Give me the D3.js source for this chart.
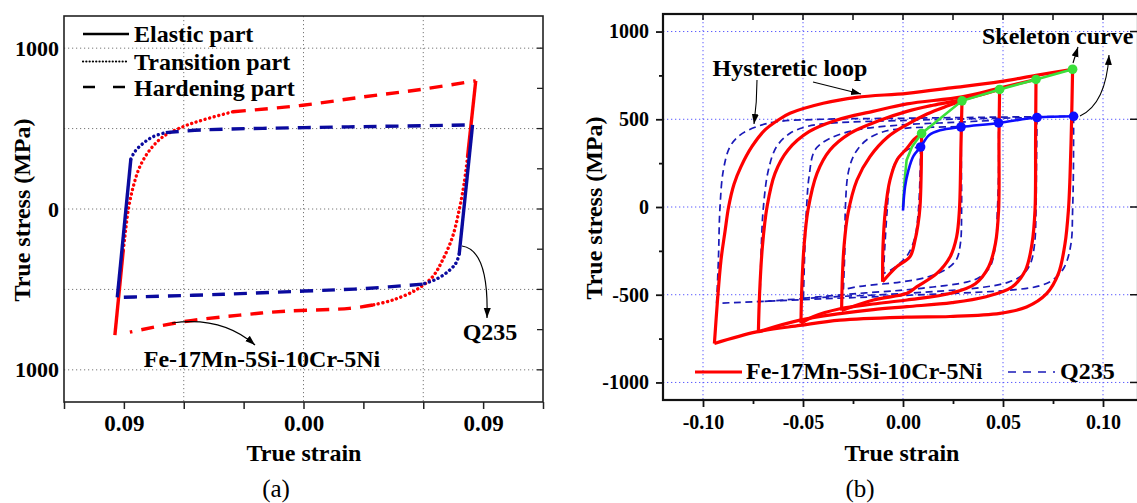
<!DOCTYPE html>
<html><head><meta charset="utf-8">
<script src="https://cdn.jsdelivr.net/npm/d3@7"></script>
<style>
body{margin:0;background:#fff}
svg{display:block}
text{font-family:"Liberation Serif","Times New Roman",serif;fill:#000}
</style>
</head><body>
<svg id="c" width="1137" height="503"></svg>
<script>
// ---------- Panel (a) data: [strain, stress] ----------
const aStrainTickValues = [-0.09, 0, 0.09];
const aStrainTickLabels = ["0.09", "0.00", "0.09"];
const aStressTickValues = [1000, 0, -1000];
const aStressTickLabels = ["1000", "0", "1000"];

const aFeElasticLeft = [[-0.0945, -784], [-0.0903, -255]];
const aFeTransitionLeft = [[-0.0903, -255], [-0.0895, -172], [-0.0878, -6], [-0.0853, 139], [-0.082, 263], [-0.077, 367], [-0.0703, 450], [-0.0603, 512], [-0.0503, 554], [-0.0353, 605]];
const aFeHardeningTop = [[-0.0353, 605], [-0.002, 643], [0.03, 697], [0.0597, 745], [0.0863, 797]];
const aFeElasticRight = [[0.0863, 797], [0.0822, 326]];
const aFeTransitionRight = [[0.0822, 326], [0.0805, 160], [0.078, -6], [0.0747, -172], [0.0697, -317], [0.0647, -421], [0.0563, -504], [0.0447, -566], [0.0347, -597]];
const aFeHardeningBottom = [[0.0347, -597], [0.023, -618], [-0.0087, -635], [-0.032, -660], [-0.0603, -701], [-0.087, -766]];

const aQElasticLeft = [[-0.0933, -550], [-0.0865, 311]];
const aQTransitionLeft = [[-0.0865, 311], [-0.0845, 357], [-0.0803, 409], [-0.0753, 450], [-0.069, 475]];
const aQHardeningTop = [[-0.069, 475], [-0.05, 492], [0.0005, 506], [0.04, 514], [0.0847, 523]];
const aQElasticRight = [[0.0847, 523], [0.078, -282]];
const aQTransitionRight = [[0.078, -282], [0.0763, -338], [0.0713, -400], [0.0655, -442], [0.0597, -467]];
const aQHardeningBottom = [[0.0597, -467], [0.0313, -494], [0.0005, -510], [-0.04, -530], [-0.082, -546], [-0.0933, -550]];

// ---------- Panel (b) data: [strain, stress] ----------
const bStrainTickValues = [-0.10, -0.05, 0, 0.05, 0.10];
const bStrainTickLabels = ["-0.10", "-0.05", "0.00", "0.05", "0.10"];
const bStressTickValues = [1000, 500, 0, -500, -1000];
const bStressTickLabels = ["1000", "500", "0", "-500", "-1000"];

const feUp1 = [[-0.0102, -426], [-0.01, -226], [-0.0088, -17], [-0.0065, 154], [-0.003, 268], [0.002, 335], [0.0055, 385], [0.0093, 419]];
const feDown1 = [[0.0093, 419], [0.0091, 200], [0.0085, 0], [0.0075, -100], [0.006, -190], [0.0035, -283], [-0.0031, -340], [-0.0102, -426]];
const feUp2 = [[-0.0307, -590], [-0.0303, -397], [-0.0295, -226], [-0.0275, -36], [-0.023, 154], [-0.0165, 287], [-0.0075, 400], [0.002, 470], [0.012, 530], [0.022, 575], [0.0295, 605]];
const feDown2 = [[0.0295, 605], [0.029, 361], [0.0282, -19], [0.0268, -171], [0.0235, -285], [0.0168, -380], [0.0068, -455], [0.002, -492], [-0.0148, -530], [-0.0307, -590]];
const feUp3 = [[-0.051, -663], [-0.0507, -492], [-0.0495, -226], [-0.0475, -17], [-0.043, 192], [-0.0365, 325], [-0.0265, 420], [-0.0125, 490], [0.002, 545], [0.015, 580], [0.0295, 612], [0.0483, 670]];
const feDown3 = [[0.0483, 670], [0.048, 400], [0.0478, -19], [0.0462, -209], [0.0428, -342], [0.0362, -437], [0.0245, -490], [0.002, -530], [-0.015, -553], [-0.0315, -580], [-0.045, -625], [-0.051, -663]];
const feUp4 = [[-0.0723, -711], [-0.0717, -492], [-0.0703, -226], [-0.068, 0], [-0.064, 192], [-0.0575, 325], [-0.047, 429], [-0.033, 496], [-0.015, 545], [0.002, 588], [0.0295, 628], [0.0483, 678], [0.0665, 727]];
const feDown4 = [[0.0665, 727], [0.0663, 400], [0.066, -19], [0.0645, -209], [0.0612, -361], [0.0545, -456], [0.041, -513], [0.0245, -545], [0.002, -568], [-0.0148, -585], [-0.0315, -608], [-0.0515, -645], [-0.0723, -711]];
const feUp5 = [[-0.0943, -778], [-0.0928, -540], [-0.091, -302], [-0.089, -140], [-0.0872, 0], [-0.0845, 130], [-0.081, 230], [-0.0755, 345], [-0.069, 439], [-0.0625, 495], [-0.0565, 534], [-0.0399, 591], [-0.0232, 625], [0.002, 648], [0.025, 680], [0.0485, 715], [0.0665, 750], [0.0848, 785]];
const feDown5 = [[0.0848, 785], [0.0843, 495], [0.0835, 171], [0.0827, -19], [0.081, -209], [0.0777, -380], [0.0718, -494], [0.0618, -570], [0.0485, -606], [0.0235, -624], [0.002, -628], [-0.0315, -645], [-0.0515, -675], [-0.0732, -712], [-0.0943, -778]];

const qUp1 = [[-0.0098, -380], [-0.009, -209], [-0.0078, 0], [-0.0065, 150], [-0.0032, 270], [0.002, 325], [0.0055, 338], [0.0088, 342]];
const qDown1 = [[0.0088, 342], [0.0085, 171], [0.0077, -19], [0.006, -171], [0.0027, -266], [-0.0015, -320], [-0.0055, -355], [-0.0098, -380]];
const qUp2 = [[-0.0298, -470], [-0.029, -209], [-0.0288, 0], [-0.0273, 200], [-0.024, 306], [-0.0182, 382], [-0.0098, 429], [0.002, 450], [0.015, 455], [0.029, 458]];
const qDown2 = [[0.029, 458], [0.0292, 200], [0.0293, -19], [0.0287, -209], [0.0265, -304], [0.0207, -361], [0.0123, -399], [-0.0015, -428], [-0.0215, -452], [-0.0298, -470]];
const qUp3 = [[-0.0498, -520], [-0.049, -209], [-0.0482, 0], [-0.047, 170], [-0.044, 325], [-0.0365, 391], [-0.0232, 439], [0.002, 470], [0.025, 482], [0.0478, 495]];
const qDown3 = [[0.0478, 495], [0.0478, 200], [0.0472, -19], [0.0463, -209], [0.0435, -342], [0.0385, -399], [0.0318, -428], [0.015, -456], [-0.0015, -475], [-0.025, -495], [-0.0498, -520]];
const qUp4 = [[-0.0715, -540], [-0.0708, -209], [-0.0698, 0], [-0.0673, 211], [-0.0632, 344], [-0.0565, 420], [-0.0482, 458], [-0.0365, 477], [0.002, 494], [0.035, 503], [0.067, 510]];
const qDown4 = [[0.067, 510], [0.0667, 200], [0.0665, -19], [0.0658, -209], [0.0637, -323], [0.0595, -390], [0.0528, -428], [0.041, -456], [-0.0015, -494], [-0.04, -515], [-0.0715, -540]];
const qUp5 = [[-0.0932, -549], [-0.0923, -302], [-0.0915, 0], [-0.0898, 211], [-0.0865, 344], [-0.0815, 410], [-0.0732, 458], [-0.0632, 486], [-0.0399, 500], [0.002, 506], [0.045, 512], [0.0853, 517]];
const qDown5 = [[0.0853, 517], [0.0852, 200], [0.0848, -19], [0.084, -209], [0.0807, -342], [0.0757, -409], [0.069, -447], [0.0563, -471], [-0.0015, -505], [-0.05, -528], [-0.0932, -549]];

const feSkeletonLine = [[0.0, 0], [0.0008, 150], [0.0018, 267], [0.0045, 343], [0.0093, 419], [0.0295, 605], [0.0483, 670], [0.0665, 727], [0.0848, 785]];
const feSkeletonPoints = [[0.0093, 419], [0.0295, 605], [0.0483, 670], [0.0665, 727], [0.0848, 785]];
const qSkeletonLine = [[0.0, -20], [0.001, 114], [0.0027, 209], [0.0052, 290], [0.0088, 342], [0.013, 409], [0.0185, 437], [0.029, 456], [0.0478, 479], [0.067, 510], [0.0853, 517]];
const qSkeletonPoints = [[0.0088, 342], [0.029, 456], [0.0478, 479], [0.067, 510], [0.0853, 517]];

// ---------- drawing ----------
const svg = d3.select("#c");
const RED = "#ff0000", NAVY = "#0a0a9e", QBLUE = "#1a1ab8", SBLUE = "#0d0dff", GREEN = "#3ae03a";
const FONT = "Liberation Serif";

const defs = svg.append("defs");
defs.append("marker").attr("id", "arr").attr("markerUnits", "userSpaceOnUse")
  .attr("markerWidth", 11).attr("markerHeight", 8).attr("refX", 10).attr("refY", 3.5)
  .attr("orient", "auto")
  .append("path").attr("d", "M0,0 L10,3.5 L0,7 Z").attr("fill", "#000");

function curvePath(g, data, x, y, stroke, width, dash, cap) {
  g.append("path").datum(data)
    .attr("d", d3.line().x(d => x(d[0])).y(d => y(d[1])).curve(d3.curveCatmullRom.alpha(0.5)))
    .attr("fill", "none").attr("stroke", stroke).attr("stroke-width", width)
    .attr("stroke-dasharray", dash || null).attr("stroke-linecap", cap || "butt")
    .attr("stroke-linejoin", "round");
}
function label(g, x, y, t, size, anchor, weight) {
  return g.append("text").attr("x", x).attr("y", y).attr("text-anchor", anchor || "start")
    .style("font-family", FONT).style("font-size", size + "px").style("font-weight", weight || "bold").text(t);
}
function styleTicks(sel, size) {
  sel.selectAll("text").style("font-family", FONT).style("font-weight", "bold").style("font-size", size + "px").attr("fill", "#000");
}

// ===== Panel (a) =====
const xA = d3.scaleLinear().domain([-0.12, 0.12]).range([64, 543]);
const yA = d3.scaleLinear().domain([-1200, 1200]).range([402, 16]);
const gA = svg.append("g");

[-0.06, 0, 0.06].forEach(v => gA.append("line").attr("x1", xA(v)).attr("x2", xA(v)).attr("y1", yA(1200)).attr("y2", yA(-1200))
  .attr("stroke", "#777").attr("stroke-width", 1).attr("stroke-dasharray", "1.2,2.8"));
[1000, 500, 0, -500, -1000].forEach(v => gA.append("line").attr("y1", yA(v)).attr("y2", yA(v)).attr("x1", xA(-0.12)).attr("x2", xA(0.12))
  .attr("stroke", "#777").attr("stroke-width", 1).attr("stroke-dasharray", "1.2,2.8"));

d3.range(-1000, 1001, 250).forEach(v => gA.append("line").attr("x1", xA(0.12)).attr("x2", xA(0.12) - 6).attr("y1", yA(v)).attr("y2", yA(v)).attr("stroke", "#222").attr("stroke-width", 1.3));

const axA = gA.append("g").attr("transform", `translate(0,${yA(-1200)})`)
  .call(d3.axisBottom(xA).tickValues(d3.range(-4, 5).map(i => i * 0.03)).tickSize(7).tickSizeOuter(0).tickPadding(6)
    .tickFormat(d => { const i = aStrainTickValues.findIndex(v => Math.abs(v - d) < 1e-9); return i >= 0 ? aStrainTickLabels[i] : ""; }));
axA.select(".domain").remove();
axA.selectAll("line").attr("stroke", "#222").attr("stroke-width", 1.5);
styleTicks(axA, 23);

const ayA = gA.append("g").attr("transform", `translate(${xA(-0.12)},0)`)
  .call(d3.axisLeft(yA).tickValues(aStressTickValues).tickSize(0).tickPadding(5)
    .tickFormat((d, i) => aStressTickLabels[i]));
ayA.select(".domain").remove();
styleTicks(ayA, 22);

gA.append("rect").attr("x", xA(-0.12)).attr("y", yA(1200)).attr("width", xA(0.12) - xA(-0.12)).attr("height", yA(-1200) - yA(1200))
  .attr("fill", "none").attr("stroke", "#222").attr("stroke-width", 1.6);

const DOT = "0.1,4.6", DASH = "13,9";
curvePath(gA, aFeElasticLeft, xA, yA, RED, 3.4);
curvePath(gA, aFeTransitionLeft, xA, yA, RED, 3.4, DOT, "round");
curvePath(gA, aFeHardeningTop, xA, yA, RED, 3.4, DASH);
curvePath(gA, aFeElasticRight, xA, yA, RED, 3.4);
curvePath(gA, aFeTransitionRight, xA, yA, RED, 3.4, DOT, "round");
curvePath(gA, aFeHardeningBottom, xA, yA, RED, 3.4, DASH);
curvePath(gA, aQElasticLeft, xA, yA, NAVY, 3.4);
curvePath(gA, aQTransitionLeft, xA, yA, NAVY, 3.4, DOT, "round");
curvePath(gA, aQHardeningTop, xA, yA, NAVY, 3.4, DASH);
curvePath(gA, aQElasticRight, xA, yA, NAVY, 3.4);
curvePath(gA, aQTransitionRight, xA, yA, NAVY, 3.4, DOT, "round");
curvePath(gA, aQHardeningBottom, xA, yA, NAVY, 3.4, DASH);

const legA = [["Elastic part", null, 34, 42], ["Transition part", "0.1,3.2", 61.5, 70], ["Hardening part", "12,18", 87, 96]];
legA.forEach(([t, d, ly, ty]) => {
  gA.append("line").attr("x1", 83).attr("x2", 129).attr("y1", ly).attr("y2", ly).attr("stroke", "#000")
    .attr("stroke-width", d === "0.1,3.2" ? 2.2 : 2.6).attr("stroke-dasharray", d).attr("stroke-linecap", d === "0.1,3.2" ? "round" : "butt");
  label(gA, 134, ty, t, 24);
});

label(gA, 490, 340, "Q235", 24, "middle");
gA.append("path").attr("d", "M462,246 Q489,250 487,318").attr("fill", "none").attr("stroke", "#000").attr("stroke-width", 1.2).attr("marker-end", "url(#arr)");
label(gA, 262, 367, "Fe-17Mn-5Si-10Cr-5Ni", 24, "middle");
gA.append("path").attr("d", "M172,323 Q222,316 255,345").attr("fill", "none").attr("stroke", "#000").attr("stroke-width", 1.2).attr("marker-end", "url(#arr)");

label(gA, 304, 461, "True strain", 24, "middle");
label(gA, 0, 0, "True stress (MPa)", 24, "middle").attr("transform", "translate(30,210) rotate(-90)");
label(gA, 276, 497, "(a)", 25, "middle", "normal");

// ===== Panel (b) =====
const xB = d3.scaleLinear().domain([-0.12, 0.1175]).range([663, 1138]);
const yB = d3.scaleLinear().domain([-1100, 1100]).range([400, 14]);
const gB = svg.append("g");

const GRIDB = "#5a5aff";
bStrainTickValues.forEach(v => gB.append("line").attr("x1", xB(v)).attr("x2", xB(v)).attr("y1", yB(1100)).attr("y2", yB(-1100))
  .attr("stroke", GRIDB).attr("stroke-width", 1).attr("stroke-dasharray", "1.3,2.7"));
bStressTickValues.forEach(v => gB.append("line").attr("y1", yB(v)).attr("y2", yB(v)).attr("x1", xB(-0.12)).attr("x2", xB(0.1175))
  .attr("stroke", GRIDB).attr("stroke-width", 1).attr("stroke-dasharray", "1.3,2.7"));

d3.range(-4, 5).map(i => i * 0.025).forEach(v => gB.append("line").attr("x1", xB(v)).attr("x2", xB(v)).attr("y1", yB(1100)).attr("y2", yB(1100) + 6).attr("stroke", "#111").attr("stroke-width", 1.5));
bStressTickValues.forEach(v => gB.append("line").attr("x1", xB(0.1175)).attr("x2", xB(0.1175) - 8).attr("y1", yB(v)).attr("y2", yB(v)).attr("stroke", "#111").attr("stroke-width", 1.5));

const axB = gB.append("g").attr("transform", `translate(0,${yB(-1100)})`)
  .call(d3.axisBottom(xB).tickValues(bStrainTickValues).tickSize(7).tickSizeOuter(0).tickPadding(8)
    .tickFormat((d, i) => bStrainTickLabels[i]));
axB.select(".domain").remove();
axB.selectAll("line").attr("stroke", "#111").attr("stroke-width", 1.8);
styleTicks(axB, 20);
const axBm = gB.append("g").attr("transform", `translate(0,${yB(-1100)})`)
  .call(d3.axisBottom(xB).tickValues([-0.075, -0.025, 0.025, 0.075]).tickSize(4).tickSizeOuter(0).tickFormat(""));
axBm.select(".domain").remove();
axBm.selectAll("line").attr("stroke", "#111").attr("stroke-width", 1.8);

const ayB = gB.append("g").attr("transform", `translate(${xB(-0.12)},0)`)
  .call(d3.axisLeft(yB).tickValues(bStressTickValues).tickSize(7).tickSizeOuter(0).tickPadding(7)
    .tickFormat((d, i) => bStressTickLabels[i]));
ayB.select(".domain").remove();
ayB.selectAll("line").attr("stroke", "#111").attr("stroke-width", 1.8);
styleTicks(ayB, 20);
const ayBm = gB.append("g").attr("transform", `translate(${xB(-0.12)},0)`)
  .call(d3.axisLeft(yB).tickValues([750, 250, -250, -750]).tickSize(4).tickSizeOuter(0).tickFormat(""));
ayBm.select(".domain").remove();
ayBm.selectAll("line").attr("stroke", "#111").attr("stroke-width", 1.8);

gB.append("rect").attr("x", xB(-0.12)).attr("y", yB(1100)).attr("width", xB(0.1175) - xB(-0.12)).attr("height", yB(-1100) - yB(1100))
  .attr("fill", "none").attr("stroke", "#111").attr("stroke-width", 2.2);

const qUps = [qUp1, qUp2, qUp3, qUp4, qUp5], qDowns = [qDown1, qDown2, qDown3, qDown4, qDown5];
const feUps = [feUp1, feUp2, feUp3, feUp4, feUp5], feDowns = [feDown1, feDown2, feDown3, feDown4, feDown5];
qUps.forEach((d, i) => { curvePath(gB, d, xB, yB, QBLUE, 1.7, "7,4.5"); curvePath(gB, qDowns[i], xB, yB, QBLUE, 1.7, "7,4.5"); });
feUps.forEach((d, i) => { curvePath(gB, d, xB, yB, RED, 3.2); curvePath(gB, feDowns[i], xB, yB, RED, 3.2); });

gB.append("path").datum(feSkeletonLine).attr("d", d3.line().x(d => xB(d[0])).y(d => yB(d[1])))
  .attr("fill", "none").attr("stroke", GREEN).attr("stroke-width", 2.6);
gB.append("path").datum(qSkeletonLine).attr("d", d3.line().x(d => xB(d[0])).y(d => yB(d[1])).curve(d3.curveCatmullRom.alpha(0.5)))
  .attr("fill", "none").attr("stroke", SBLUE).attr("stroke-width", 2.6);
gB.selectAll(".gpt").data(feSkeletonPoints).join("circle").attr("class", "gpt")
  .attr("cx", d => xB(d[0])).attr("cy", d => yB(d[1])).attr("r", 4.8).attr("fill", GREEN);
gB.selectAll(".bpt").data(qSkeletonPoints).join("circle").attr("class", "bpt")
  .attr("cx", d => xB(d[0])).attr("cy", d => yB(d[1])).attr("r", 4.8).attr("fill", SBLUE);

label(gB, 790, 76, "Hysteretic loop", 24, "middle");
gB.append("path").attr("d", "M757,80 Q757,102 754,124").attr("fill", "none").attr("stroke", "#000").attr("stroke-width", 1.1).attr("marker-end", "url(#arr)");
gB.append("path").attr("d", "M813,82 L861,94").attr("fill", "none").attr("stroke", "#000").attr("stroke-width", 1.1).attr("marker-end", "url(#arr)");
label(gB, 982, 44, "Skeleton curve", 24);
gB.append("path").attr("d", "M1073,63 L1078,47").attr("fill", "none").attr("stroke", "#000").attr("stroke-width", 1.1).attr("marker-end", "url(#arr)");
gB.append("path").attr("d", "M1080,116 Q1106,104 1109,55").attr("fill", "none").attr("stroke", "#000").attr("stroke-width", 1.1).attr("marker-end", "url(#arr)");

gB.append("line").attr("x1", 695).attr("x2", 742).attr("y1", 372).attr("y2", 372).attr("stroke", RED).attr("stroke-width", 3.2);
label(gB, 746, 379, "Fe-17Mn-5Si-10Cr-5Ni", 24);
gB.append("line").attr("x1", 1008).attr("x2", 1055).attr("y1", 372).attr("y2", 372).attr("stroke", QBLUE).attr("stroke-width", 1.7).attr("stroke-dasharray", "8,7");
label(gB, 1060, 379, "Q235", 24);

label(gB, 902, 461, "True strain", 24, "middle");
label(gB, 0, 0, "True stress (MPa)", 24, "middle").attr("transform", "translate(602,208) rotate(-90)");
label(gB, 860, 497, "(b)", 25, "middle", "normal");
</script>
</body></html>
